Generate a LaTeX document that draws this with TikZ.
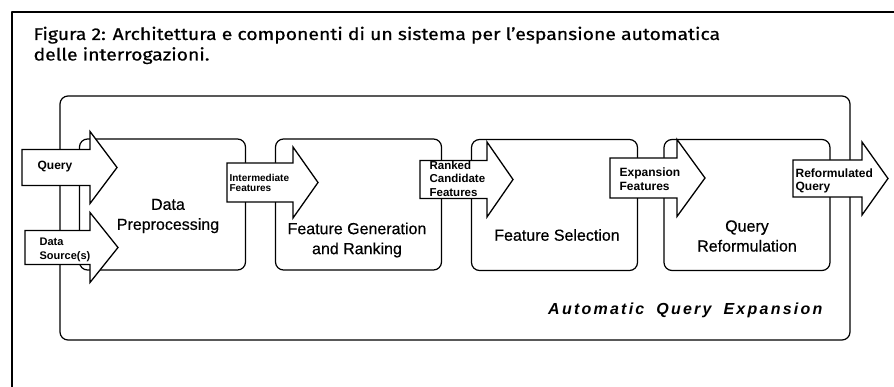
\documentclass[tikz,border=0pt]{standalone}
\usepackage{fontspec}
\setmainfont{Liberation Sans}
\newfontfamily\titlefont[FakeStretch=1.14,FakeBold=0.6]{Fira Sans}
\newfontfamily\stagefont[FakeBold=0.5]{Liberation Sans}
\newfontfamily\aqefont[LetterSpace=14]{Liberation Sans}
\newcommand{\blockarrow}[6]{% x0, xhead, xtip, ycenter, body half, head half
  \draw[arrowshape] (#1,#4-#5) -- (#2,#4-#5) -- (#2,#4-#6) -- (#3,#4)
    -- (#2,#4+#6) -- (#2,#4+#5) -- (#1,#4+#5) -- cycle;}
\begin{document}
\begin{tikzpicture}[x=1pt,y=-1pt,
  line width=1.2pt, line join=round,
  frame/.style={line width=1.3pt},
  container/.style={draw, rounded corners=8pt, minimum width=790pt, minimum height=244pt, inner sep=0pt},
  stagebox/.style={draw, fill=white, rounded corners=8pt, minimum width=166pt, minimum height=131pt, inner sep=0pt},
  stagetext/.style={align=center, font=\stagefont\fontsize{16}{20}\selectfont, inner sep=0pt},
  arrowshape/.style={draw, fill=white, line width=1.3pt, line join=miter},
  arrowtext/.style={anchor=west, align=left, inner sep=0pt, font=\bfseries\fontsize{12}{13.5}\selectfont},
  titletext/.style={anchor=base west, align=left, inner sep=0pt, font=\titlefont\fontsize{17}{20.5}\selectfont},
  aqetext/.style={anchor=base east, inner sep=0pt, font=\aqefont\bfseries\itshape\fontsize{16}{18}\selectfont}]
\useasboundingbox (0,0) rectangle (894,387);
% page frame
\draw[frame] (894,12) -- (12,12) -- (12,387);
% caption
\node[titletext] (title) at (33,60.5) {Figura 2: Architettura e componenti di un sistema per l’espansione automatica\\delle interrogazioni.};
% container
\node[container] (aqe) at (455,218) {};
\node[aqetext] (aqelabel) at (823,315) {Automatic\hspace{12pt}Query\hspace{12pt}Expansion};
% stages
\node[stagebox] (s1) at (162.5,204.5) {};
\node[stagebox] (s2) at (358.5,204.5) {};
\node[stagebox] (s3) at (554.5,205) {};
\node[stagebox] (s4) at (747,205) {};
\node[stagetext] (t1) at (168,216) {Data\\Preprocessing};
\node[stagetext] (t2) at (357,240) {Feature Generation\\and Ranking};
\node[stagetext] (t3) at (557,235) {Feature Selection};
\node[stagetext] (t4) at (747,236) {Query\\Reformulation};
% block arrows
\blockarrow{22}{90}{117}{167.5}{18}{36}
\node[arrowtext] (aq) at (37,167) {Query};
\blockarrow{25}{90}{118}{247.5}{17}{35}
\node[arrowtext, font=\bfseries\fontsize{11}{13.5}\selectfont] (ads) at (39,250) {Data\\Source(s)};
\blockarrow{227}{293}{318}{182.5}{19.5}{35.5}
\node[arrowtext, font=\bfseries\fontsize{10}{10.5}\selectfont] (aif) at (229,183) {Intermediate\\Features};
\blockarrow{420}{487}{513}{179.5}{19}{37.5}
\node[arrowtext, font=\bfseries\fontsize{11.5}{13.5}\selectfont] (arc) at (429,178.5) {Ranked\\Candidate\\Features};
\blockarrow{610}{677}{705}{178}{20}{38.5}
\node[arrowtext, font=\bfseries\fontsize{12}{14}\selectfont] (aef) at (619,179.5) {Expansion\\Features};
\blockarrow{793}{862}{888}{178.5}{18.5}{36.5}
\node[arrowtext, font=\bfseries\fontsize{12}{12.5}\selectfont] (arq) at (795,181) {Reformulated\\Query};
\end{tikzpicture}
\end{document}
